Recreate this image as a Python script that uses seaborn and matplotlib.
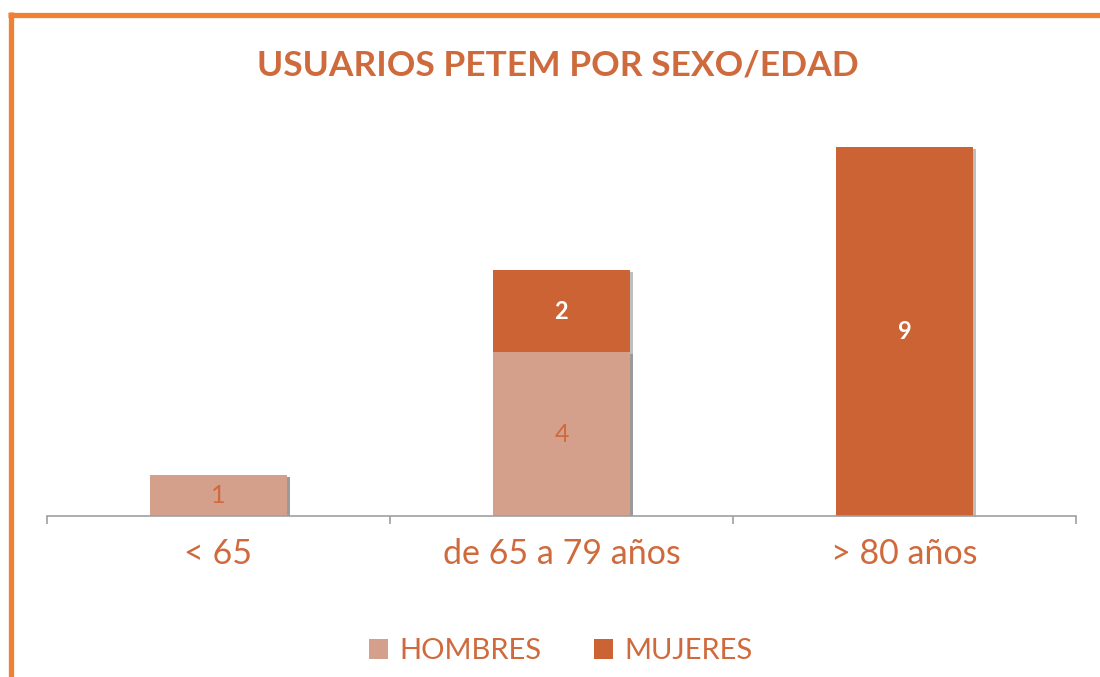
import matplotlib
matplotlib.use("Agg")
import matplotlib.pyplot as plt
import matplotlib.patheffects as pe
from matplotlib.lines import Line2D
from matplotlib.patches import Patch
import seaborn as sns
import pandas as pd

# Data
categories = ["< 65", "de 65 a 79 años", "> 80 años"]
hombres = [1, 4, 0]
mujeres = [0, 2, 9]
series_names = ["HOMBRES", "MUJERES"]

col_h = "#D4A08C"
col_m = "#CB6334"
text_col = "#CF6A3C"
border_col = "#F08033"

sns.set_theme(style="white")
plt.rcParams["font.family"] = ["Lato", "DejaVu Sans"]

totals = [h + m for h, m in zip(hombres, mujeres)]
df_tot = pd.DataFrame({"cat": categories, "val": totals})
df_h = pd.DataFrame({"cat": categories, "val": hombres})

fig = plt.figure(figsize=(11, 6.77), dpi=100)
ax = fig.add_axes([0.0427, 0.2378, 0.9355, 0.6056])

shadow = [pe.SimplePatchShadow(offset=(2, -1.5), shadow_rgbFace="#707070", alpha=0.45),
          pe.Normal()]

# Stacked bars: totals drawn in the women's colour, men's share drawn over it
sns.barplot(data=df_tot, x="cat", y="val", color=col_m, saturation=1, width=0.4,
            ax=ax, order=categories)
sns.barplot(data=df_h, x="cat", y="val", color=col_h, saturation=1, width=0.4,
            ax=ax, order=categories)
for p in ax.patches:
    p.set_linewidth(0)
    if p.get_height() > 0:
        p.set_path_effects(shadow)

# Value labels
for i, (h, m) in enumerate(zip(hombres, mujeres)):
    if h > 0:
        ax.text(i, h / 2, str(h), ha="center", va="center", fontsize=18,
                color=text_col)
    if m > 0:
        ax.text(i, h + m / 2, str(m), ha="center", va="center", fontsize=17,
                color="white", fontweight="bold")

ax.set_xlim(-0.5, 2.5)
ax.set_ylim(0, 10)
ax.set_xlabel("")
ax.set_ylabel("")
ax.set_yticks([])
for s in ["top", "right", "left"]:
    ax.spines[s].set_visible(False)
ax.spines["bottom"].set_color("#A0A0A0")
ax.spines["bottom"].set_linewidth(1.2)

ax.set_xticks(range(len(categories)))
ax.set_xticklabels(categories, fontsize=24.5, color=text_col)
ax.set_xticks([-0.5, 0.5, 1.5, 2.5], minor=True)
ax.tick_params(axis="x", which="major", length=0, pad=16)
ax.tick_params(axis="x", which="minor", length=6, width=1.2, color="#A0A0A0",
               direction="out", bottom=True)

# Title
fig.text(0.507, 0.903, "USUARIOS PETEM POR SEXO/EDAD", ha="center", va="center",
         fontsize=25.5, fontweight="bold", color=text_col)

# Legend
handles = [Patch(facecolor=col_h, edgecolor="none"), Patch(facecolor=col_m, edgecolor="none")]
leg = fig.legend(handles, series_names, loc="center", bbox_to_anchor=(0.51, 0.038),
                 ncol=2, frameon=False, fontsize=21, handlelength=0.65, handleheight=0.65,
                 columnspacing=1.8, handletextpad=0.4)
for t in leg.get_texts():
    t.set_color(text_col)

# Frame lines on the top and left edges
fig.add_artist(Line2D([8 / 1100, 1.0], [1 - 14.5 / 677, 1 - 14.5 / 677],
                      transform=fig.transFigure, color=border_col, lw=3.8,
                      solid_capstyle="butt"))
fig.add_artist(Line2D([10.5 / 1100, 10.5 / 1100], [0, 1 - 12 / 677],
                      transform=fig.transFigure, color=border_col, lw=3.8,
                      solid_capstyle="butt"))

fig.savefig("out.png", dpi=100, facecolor="white")
